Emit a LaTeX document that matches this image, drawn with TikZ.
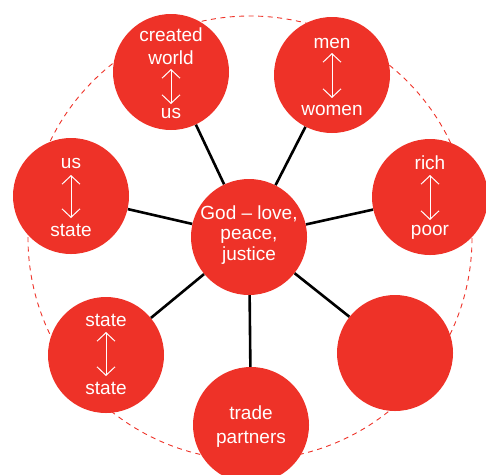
\documentclass[tikz,border=0pt]{standalone}
\usepackage{fontspec}
\setmainfont{Liberation Sans}
\usetikzlibrary{arrows.meta,backgrounds}
\definecolor{dred}{RGB}{238,50,40}
\tikzset{
  bubble/.style={circle, fill=dred, minimum size=116pt, inner sep=0pt},
  spoke/.style={line width=2.6pt, black},
  ring/.style={dred, line width=0.9pt, dash pattern=on 5pt off 4.5pt},
  lbl/.style={text=white, font=\fontsize{19}{20.5}\selectfont, inner sep=0pt, anchor=center},
  dbl/.style={white, line width=1pt, {Straight Barb[length=8.5pt,width=18pt]}-{Straight Barb[length=8.5pt,width=18pt]}}
}
\begin{document}
\begin{tikzpicture}[x=1pt,y=-1pt]
\useasboundingbox (0,0) rectangle (486,474);
\clip (0,0) rectangle (486,474);
\coordinate (c) at (250,238);
% nodes
\node[bubble] (god) at (249,237) {};
\node[bubble] (cw) at (171,72) {};
\node[bubble] (mw) at (332,75) {};
\node[bubble] (rp) at (430,197) {};
\node[bubble] (em) at (395,353) {};
\node[bubble] (tp) at (251,425) {};
\node[bubble] (ss) at (106,355) {};
\node[bubble] (us) at (71,196) {};
\begin{pgfonlayer}{background}
\draw[ring] (c) circle[radius=222];
\foreach \n in {cw,mw,rp,em,tp,ss,us}{
  \draw[spoke] (god) -- (\n);
}
\end{pgfonlayer}
% texts
\node[lbl, align=center] (godt) at (249,235) {God -- love,\\peace,\\justice};
% created world
\node[lbl] (cw1) at (171,35) {created};
\node[lbl] (cw2) at (171,58) {world};
\node[lbl] (cw3) at (171,113) {us};
\coordinate (cwa) at (171,69); \coordinate (cwb) at (171,104);
\draw[dbl] (cwa) -- (cwb);
% men women
\node[lbl] (mw1) at (332,43) {men};
\node[lbl] (mw2) at (332,110) {women};
\coordinate (mwa) at (332,53); \coordinate (mwb) at (332,98);
\draw[dbl] (mwa) -- (mwb);
% rich poor
\node[lbl] (rp1) at (430,163) {rich};
\node[lbl] (rp2) at (430,232) {poor};
\coordinate (rpa) at (430,175); \coordinate (rpb) at (430,220);
\draw[dbl] (rpa) -- (rpb);
% us state
\node[lbl] (us1) at (71,163) {us};
\node[lbl] (us2) at (71,230) {state};
\coordinate (usa) at (71,175); \coordinate (usb) at (71,218);
\draw[dbl] (usa) -- (usb);
% state state
\node[lbl] (ss1) at (106,320) {state};
\node[lbl] (ss2) at (106,388) {state};
\coordinate (ssa) at (106,332); \coordinate (ssb) at (106,376);
\draw[dbl] (ssa) -- (ssb);
% trade partners
\node[lbl] (tp1) at (251,413) {trade};
\node[lbl] (tp2) at (251,439) {partners};
\end{tikzpicture}
\end{document}
